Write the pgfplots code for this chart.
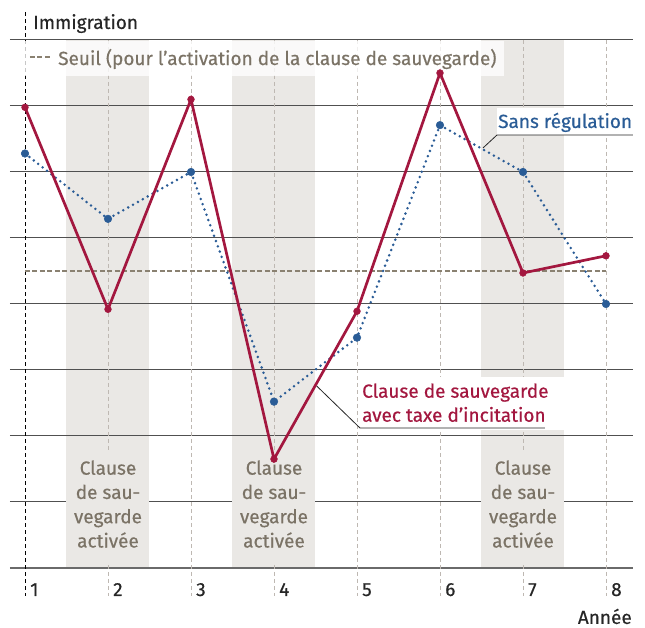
\documentclass[border=0pt]{standalone}
\usepackage{fontspec}
\setmainfont{Fira Sans}[FakeBold=0.45]
\usepackage{pgfplots}
\pgfplotsset{compat=1.18}
\definecolor{red1}{HTML}{A3173F}
\definecolor{blue1}{HTML}{2A5C96}
\definecolor{bandgray}{HTML}{EAE8E5}
\definecolor{textgray}{HTML}{7B7366}
\definecolor{threshc}{HTML}{8A8171}
\definecolor{gridc}{HTML}{505050}
\definecolor{vdash}{HTML}{BEB8B2}
\definecolor{textdark}{HTML}{262626}
\newcommand\fs{\fontsize{19bp}{24.3bp}\selectfont}
\begin{document}
\begin{tikzpicture}
\begin{axis}[
  x=83bp, y=66bp,
  xmin=0.82, xmax=8.33, ymin=0, ymax=8,
  axis line style={draw=none},
  ytick=\empty,
  xtick={1,2,3,4,5,6,7,8},
  xticklabels={1,2,3,4,5,6,7,8},
  major tick length=0pt,
  xticklabel style={anchor=base west, inner sep=0pt, xshift=5bp, yshift=-28bp, text=textdark, font=\fs},
  clip=false,
]
% bounding frame
\path (axis cs:0.6988,-0.909) rectangle (axis cs:8.470,8.606);
% bands
\fill[bandgray] (axis cs:1.5,0) rectangle (axis cs:2.5,8);
\fill[bandgray] (axis cs:3.5,0) rectangle (axis cs:4.5,8);
\fill[bandgray] (axis cs:6.5,0) rectangle (axis cs:7.5,8);
% grid
\pgfplotsinvokeforeach{1,...,8}{\draw[gridc, line width=1bp] (axis cs:0.819,#1) -- (axis cs:8.325,#1);}
\draw[gridc!85, line width=1.6bp] (axis cs:0.819,0) -- (axis cs:8.325,0);
\pgfplotsinvokeforeach{2,...,8}{\draw[vdash, dash pattern=on 4bp off 3bp, line width=0.9bp] (axis cs:#1,8) -- (axis cs:#1,-0.42);}
\draw[black, dash pattern=on 4bp off 3bp, line width=0.9bp] (axis cs:1,8.424) -- (axis cs:1,-0.42);
% legend box
\fill[white, opacity=0.78] (axis cs:0.843,7.985) rectangle (axis cs:6.771,7.455);
\draw[threshc, line width=2.3bp, dash pattern=on 5bp off 2.5bp] (axis cs:1.06,7.74) -- (axis cs:1.325,7.74);
\node[anchor=base west, inner sep=0pt, text=textgray, font=\fs] at (axis cs:1.398,7.621) {Seuil (pour l’activation de la clause de sauvegarde)};
% title labels
\node[anchor=base west, inner sep=0pt, text=textdark, font=\fs] at (axis cs:1.096,8.167) {Immigration};
\node[anchor=base east, inner sep=0pt, text=textdark, font=\fs] at (axis cs:8.313,-0.848) {Année};
% band labels
\fill[bandgray] (axis cs:1.5,1.758) rectangle (axis cs:2.5,0.076);
\fill[bandgray] (axis cs:3.5,1.758) rectangle (axis cs:4.5,0.076);
\fill[bandgray] (axis cs:6.5,1.758) rectangle (axis cs:7.5,0.076);
\pgfplotsinvokeforeach{2,4,7}{
  \node[anchor=base, inner sep=0pt, text=textgray, font=\fs] at (axis cs:#1,1.414) {Clause};
  \node[anchor=base, inner sep=0pt, text=textgray, font=\fs] at (axis cs:#1,1.046) {de sau-};
  \node[anchor=base, inner sep=0pt, text=textgray, font=\fs] at (axis cs:#1,0.678) {vegarde};
  \node[anchor=base, inner sep=0pt, text=textgray, font=\fs] at (axis cs:#1,0.310) {activée};
}
% threshold
\addplot[threshc, line width=2.3bp, dash pattern=on 5bp off 2.5bp] coordinates {(1,4.5) (8,4.5)};
% label boxes
\fill[white] (axis cs:6.687,6.970) rectangle (axis cs:8.325,6.561);
\fill[white] (axis cs:5.036,2.894) rectangle (axis cs:7.518,2.091);
% series
\addplot[blue1, line width=2.8bp, dash pattern=on 0bp off 5.6bp, line cap=round,
  mark=*, mark size=3.8bp, mark options={solid, fill=blue1, draw=blue1, line width=0.5bp}]
  coordinates {(1,6.28) (2,5.29) (3,6.00) (4,2.52) (5,3.49) (6,6.71) (7,6.00) (8,4.00)};
\addplot[red1, line width=2.7bp, line join=miter,
  mark=*, mark size=3.4bp, mark options={solid, fill=red1, draw=red1, line width=0.5bp}]
  coordinates {(1,6.98) (2,3.92) (3,7.10) (4,1.65) (5,3.89) (6,7.50) (7,4.47) (8,4.73)};
% annotations
\draw[black!85, line width=0.8bp] (axis cs:6.518,6.364) -- (axis cs:6.687,6.561) -- (axis cs:8.325,6.561);
\node[anchor=base west, inner sep=0pt, text=blue1, font=\fs] at (axis cs:6.699,6.667) {Sans régulation};
\draw[black!85, line width=0.8bp] (axis cs:4.514,2.758) -- (axis cs:5.036,2.121) -- (axis cs:7.265,2.121);
\node[anchor=base west, inner sep=0pt, text=red1, font=\fs] at (axis cs:5.060,2.580) {Clause de sauvegarde};
\node[anchor=base west, inner sep=0pt, text=red1, font=\fs] at (axis cs:5.060,2.216) {avec taxe d’incitation};
\end{axis}
\end{tikzpicture}
\end{document}
